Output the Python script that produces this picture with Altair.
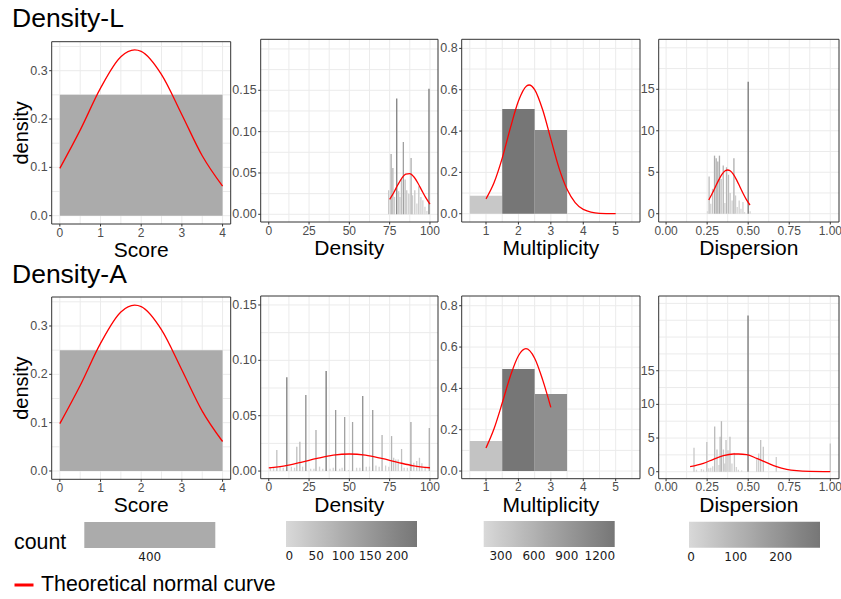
import altair as alt
import pandas as pd

# ---------------- values ----------------
ROW_TITLES = ["Density-L", "Density-A"]
X_TITLES = ["Score", "Density", "Multiplicity", "Dispersion"]
Y_TITLE = "density"
LEGEND_TITLE = "count"
CURVE_LABEL = "Theoretical normal curve"

# Score panels (identical in both rows)
SCORE_BIN_LO = [0.0]
SCORE_BIN_HI = [4.0]
SCORE_DENSITY = [0.25]
SCORE_COUNT = [400]
SCORE_CURVE_X = [0.0, 0.5, 1.0, 1.5, 1.84, 2.0, 2.5, 3.0, 3.5, 4.0]
SCORE_CURVE_Y = [0.098, 0.177, 0.264, 0.329, 0.343, 0.340, 0.292, 0.209, 0.124, 0.061]

# Density, row L
DENS_L_X = [74.4, 75.9, 77.0, 78.0, 79.4, 80.6, 81.4, 82.3, 83.5, 84.6, 85.6,
            86.9, 88.3, 89.2, 90.6, 91.9, 93.1, 94.4, 95.6, 96.9, 98.1, 99.4]
DENS_L_Y = [0.029, 0.073, 0.056, 0.021, 0.140, 0.028, 0.021, 0.042, 0.0875, 0.042, 0.029,
            0.025, 0.068, 0.023, 0.029, 0.013, 0.034, 0.021, 0.017, 0.009, 0.004, 0.152]
DENS_L_CURVE_X = [75, 77.5, 80, 82.5, 85, 87.5, 90, 92.5, 95, 97.5, 100]
DENS_L_CURVE_Y = [0.0180, 0.0261, 0.0354, 0.0436, 0.0486, 0.0493, 0.0454, 0.0379, 0.0287, 0.0198, 0.0124]

# Density, row A
DENS_A_X = [1.0, 3.0, 5.0, 7.0, 9.0, 11.2, 14.0, 16.0, 17.4, 19.3, 21.0, 23.0, 26.0, 28.0,
            29.3, 31.5, 33.5, 35.6, 38.0, 40.0, 41.5, 44.0, 45.5, 47.1, 49.5, 52.0, 54.5,
            56.5, 58.3, 60.5, 62.5, 64.5, 66.5, 68.5, 70.3, 72.5, 74.5, 76.2, 77.5, 78.8,
            80.3, 82.4, 84.0, 86.0, 88.2, 90.0, 91.8, 93.5, 95.0, 97.0, 99.6]
DENS_A_Y = [0.003, 0.003, 0.019, 0.004, 0.003, 0.0847, 0.004, 0.003, 0.022, 0.0265, 0.004,
            0.0687, 0.002, 0.002, 0.037, 0.004, 0.002, 0.0904, 0.002, 0.003, 0.0551, 0.002,
            0.003, 0.0488, 0.001, 0.0443, 0.003, 0.003, 0.0678, 0.004, 0.004, 0.0551, 0.005,
            0.004, 0.0325, 0.005, 0.004, 0.0316, 0.012, 0.0105, 0.0105, 0.0199, 0.003, 0.003,
            0.0443, 0.0075, 0.009, 0.012, 0.007, 0.004, 0.0389]
DENS_A_CURVE_X = [0, 10, 20, 30, 40, 50, 60, 70, 80, 90, 100]
DENS_A_CURVE_Y = [0.0028, 0.0047, 0.0079, 0.0114, 0.0143, 0.0154, 0.0143, 0.0114, 0.0079, 0.0047, 0.0030]

# Multiplicity
MULT_L_CENTER = [1, 2, 3, 4, 5]
MULT_L_DENSITY = [0.087, 0.5065, 0.405, 0.004, 0.003]
MULT_L_COUNT = [237, 1381, 1104, 11, 8]
MULT_L_CURVE_X = [1.0, 1.25, 1.5, 1.75, 2.0, 2.25, 2.33, 2.5, 2.75, 3.0, 3.25, 3.5, 3.75, 4.0, 4.5, 5.0]
MULT_L_CURVE_Y = [0.072, 0.151, 0.269, 0.414, 0.545, 0.618, 0.623, 0.601, 0.502, 0.361, 0.222,
                  0.118, 0.054, 0.021, 0.002, 0.0001]
MULT_A_CENTER = [1, 2, 3]
MULT_A_DENSITY = [0.145, 0.4935, 0.3725]
MULT_A_COUNT = [395, 1346, 1016]
MULT_A_CURVE_X = [1.0, 1.25, 1.5, 1.75, 2.0, 2.23, 2.5, 2.75, 3.0]
MULT_A_CURVE_Y = [0.112, 0.206, 0.329, 0.459, 0.558, 0.592, 0.546, 0.440, 0.308]

# Dispersion, row L
DISP_L_X = [0.252, 0.262, 0.272, 0.283, 0.295, 0.305, 0.315, 0.325, 0.335, 0.348, 0.358, 0.368,
            0.380, 0.390, 0.402, 0.413, 0.423, 0.433, 0.445, 0.456, 0.468, 0.478, 0.500, 0.512]
DISP_L_Y = [0.3, 4.5, 1.2, 3.0, 7.0, 6.7, 6.3, 7.0, 4.2, 5.8, 1.3, 5.6,
            4.7, 2.5, 1.6, 6.7, 2.2, 0.8, 1.6, 0.6, 1.4, 0.2, 15.9, 0.3]
DISP_L_CURVE_X = [0.26, 0.28, 0.30, 0.32, 0.34, 0.36, 0.375, 0.39, 0.41, 0.43, 0.45, 0.47, 0.49, 0.511]
DISP_L_CURVE_Y = [1.66, 2.40, 3.23, 4.05, 4.74, 5.17, 5.27, 5.17, 4.74, 4.05, 3.23, 2.40, 1.66, 1.05]

# Dispersion, row A
DISP_A_X = [0.170, 0.185, 0.215, 0.228, 0.248, 0.260, 0.272, 0.284, 0.296, 0.310, 0.322, 0.329,
            0.337, 0.349, 0.357, 0.365, 0.377, 0.389, 0.401, 0.416, 0.428, 0.440, 0.460, 0.499,
            0.552, 0.564, 0.576, 0.592, 0.671, 1.000]
DISP_A_Y = [3.57, 0.3, 0.4, 0.3, 4.4, 0.5, 0.6, 0.8, 6.7, 3.3, 1.0, 5.2,
            7.5, 3.3, 1.2, 4.7, 3.2, 5.2, 1.2, 2.8, 0.7, 0.3, 0.2, 23.2,
            2.0, 2.7, 4.7, 3.7, 2.2, 4.2]
DISP_A_CURVE_X = [0.146, 0.227, 0.288, 0.349, 0.41, 0.44, 0.49, 0.552, 0.613, 0.673, 0.734, 0.795, 0.876, 1.0]
DISP_A_CURVE_Y = [0.74, 1.24, 1.84, 2.38, 2.63, 2.63, 2.53, 1.98, 1.34, 0.74, 0.35, 0.15, 0.05, 0.02]

# counts per unit of density for the narrow-bin histograms
DENS_COUNT_PER_DENSITY = 2620
DISP_COUNT_PER_DENSITY = 12.4

# axis ticks
SCORE_TICKS_X = [0, 1, 2, 3, 4]
SCORE_TICKS_Y = [0.0, 0.1, 0.2, 0.3]
DENS_TICKS_X = [0, 25, 50, 75, 100]
DENS_TICKS_Y = [0.0, 0.05, 0.10, 0.15]
MULT_TICKS_X = [1, 2, 3, 4, 5]
MULT_TICKS_Y = [0.0, 0.2, 0.4, 0.6, 0.8]
DISP_TICKS_X = [0.0, 0.25, 0.5, 0.75, 1.0]
DISP_TICKS_Y = [0, 5, 10, 15]

# grid lines (major + minor)
SCORE_GRID_X = [0, 0.5, 1, 1.5, 2, 2.5, 3, 3.5, 4]
SCORE_GRID_Y = [0, 0.05, 0.1, 0.15, 0.2, 0.25, 0.3, 0.35]
DENS_GRID_X = [0, 12.5, 25, 37.5, 50, 62.5, 75, 87.5, 100]
DENS_L_GRID_Y = [0, 0.025, 0.05, 0.075, 0.1, 0.125, 0.15, 0.175, 0.2]
DENS_A_GRID_Y = [0, 0.025, 0.05, 0.075, 0.1, 0.125, 0.15]
MULT_GRID_X = [0.5, 1, 1.5, 2, 2.5, 3, 3.5, 4, 4.5, 5, 5.5]
MULT_GRID_Y = [0, 0.1, 0.2, 0.3, 0.4, 0.5, 0.6, 0.7, 0.8]
DISP_GRID_X = [0, 0.125, 0.25, 0.375, 0.5, 0.625, 0.75, 0.875, 1.0]
DISP_L_GRID_Y = [0, 2.5, 5, 7.5, 10, 12.5, 15, 17.5, 20]
DISP_A_GRID_Y = [0, 2.5, 5, 7.5, 10, 12.5, 15, 17.5, 20, 22.5, 25]

# colour legends
LEG_SCORE_VALUES = [400]
LEG_DENS_VALUES = [0, 50, 100, 150, 200]
LEG_MULT_VALUES = [300, 600, 900, 1200]
LEG_DISP_VALUES = [0, 100, 200]
LEG_SCORE_DOMAIN = [399, 401]
LEG_DENS_DOMAIN = [-6, 237]
LEG_MULT_DOMAIN = [143, 1336]
LEG_DISP_DOMAIN = [-4.5, 288]

# ---------------- styling / layout ----------------
W, H = 841, 599
FONT = "Liberation Sans"
LEGEND_FONT = "DejaVu Sans"
GREYS = ["#D9D9D9", "#767676"]
SCORE_GREY = "#ABABAB"
GRID_COLOR = "#EBEBEB"
BORDER_COLOR = "#333333"
TICK_LABEL_COLOR = "#4D4D4D"
CURVE_COLOR = "#FF0000"
THIN_W_DENS = 0.8
THIN_W_DISP = 0.008
TICK_LEN = 2.5
TICK_FONT = 12
TITLE_FONT = 21
X_TITLE_GAP = 33

CURVE_LEGEND = alt.Legend(orient="none", legendX=13, legendY=574, title=None,
                          symbolType="stroke", symbolStrokeWidth=3, symbolSize=361,
                          labelFont=FONT, labelFontSize=21.33, labelColor="black",
                          labelOffset=6, labelLimit=500, padding=0)


def thin_bars(xs, ys, width, per_density):
    df = pd.DataFrame({"c": xs, "density": ys})
    df["x0"] = df["c"] - width / 2
    df["x1"] = df["c"] + width / 2
    df["count"] = df["density"] * per_density
    return df


def bin_bars(lo, hi, dens, counts):
    return pd.DataFrame({"x0": lo, "x1": hi, "density": dens, "count": counts})


def curve_df(xs, ys):
    return pd.DataFrame({"cx": xs, "cy": ys})


def qdatum_x(v, xs):
    return alt.XDatum(v, type="quantitative", scale=xs, axis=None)


def qdatum_y(v, ys):
    return alt.YDatum(v, type="quantitative", scale=ys, axis=None)


def panel(L, bars, curve, color_scale, color_legend):
    xs = alt.Scale(domain=L["xdom"], range=L["xpx"], nice=False, zero=False)
    ys = alt.Scale(domain=L["ydom"], range=L["ypx"], nice=False, zero=False)
    x_lo, x_hi = L["xdom"]
    y_lo, y_hi = L["ydom"]

    vgrid = alt.Chart(pd.DataFrame({"v": L["vgrid"]})).mark_rule(
        color=GRID_COLOR, strokeWidth=1).encode(
        x=alt.X("v:Q", scale=xs, axis=None), y=qdatum_y(y_lo, ys), y2=alt.Y2Datum(y_hi))
    hgrid = alt.Chart(pd.DataFrame({"h": L["hgrid"]})).mark_rule(
        color=GRID_COLOR, strokeWidth=1).encode(
        y=alt.Y("h:Q", scale=ys, axis=None), x=qdatum_x(x_lo, xs), x2=alt.X2Datum(x_hi))
    rect = alt.Chart(bars).mark_rect().encode(
        x=alt.X("x0:Q", scale=xs, axis=None), x2="x1:Q",
        y=alt.Y("density:Q", scale=ys, axis=None), y2=alt.Y2Datum(0),
        color=alt.Color("count:Q", scale=color_scale, legend=color_legend))
    line = alt.Chart(curve).transform_calculate(series=f"'{CURVE_LABEL}'").mark_line(
        strokeWidth=1.3, interpolate="monotone").encode(
        x=alt.X("cx:Q", scale=xs, axis=None), y=alt.Y("cy:Q", scale=ys, axis=None),
        stroke=alt.Stroke("series:N", scale=alt.Scale(domain=[CURVE_LABEL], range=[CURVE_COLOR]),
                          legend=CURVE_LEGEND))
    frame = alt.Chart(pd.DataFrame({"k": [0]})).mark_rect(
        fillOpacity=0, stroke=BORDER_COLOR, strokeWidth=1).encode(
        x=qdatum_x(x_lo, xs), x2=alt.X2Datum(x_hi), y=qdatum_y(y_lo, ys), y2=alt.Y2Datum(y_hi))

    # x axis (ticks, labels, title)
    xt = pd.DataFrame({"v": L["xticks"], "lab": [format(v, L["xfmt"]) for v in L["xticks"]]})
    xtick = alt.Chart(xt).mark_rule(color=BORDER_COLOR, strokeWidth=1, y2Offset=TICK_LEN).encode(
        x=alt.X("v:Q", scale=xs, axis=None), y=qdatum_y(y_lo, ys), y2=alt.Y2Datum(y_lo))
    xlab = alt.Chart(xt).mark_text(baseline="top", align="center", dy=TICK_LEN + 1,
                                   font=FONT, fontSize=TICK_FONT, color=TICK_LABEL_COLOR).encode(
        x=alt.X("v:Q", scale=xs, axis=None), y=qdatum_y(y_lo, ys), text="lab:N")
    xtitle = alt.Chart(pd.DataFrame({"t": [L["xtitle"]]})).mark_text(
        baseline="alphabetic", align="center", dy=X_TITLE_GAP, font=FONT, fontSize=TITLE_FONT,
        color="black").encode(
        x=qdatum_x((x_lo + x_hi) / 2, xs), y=qdatum_y(y_lo, ys), text="t:N")
    # y axis (ticks, labels)
    yt = pd.DataFrame({"v": L["yticks"], "lab": [format(v, L["yfmt"]) for v in L["yticks"]]})
    ytick = alt.Chart(yt).mark_rule(color=BORDER_COLOR, strokeWidth=1, x2Offset=-TICK_LEN).encode(
        y=alt.Y("v:Q", scale=ys, axis=None), x=qdatum_x(x_lo, xs), x2=alt.X2Datum(x_lo))
    ylab = alt.Chart(yt).mark_text(baseline="middle", align="right", dx=-(TICK_LEN + 1.5),
                                   font=FONT, fontSize=TICK_FONT + 0.5, color=TICK_LABEL_COLOR).encode(
        y=alt.Y("v:Q", scale=ys, axis=None), x=qdatum_x(x_lo, xs), text="lab:N")
    layers = [vgrid, hgrid, rect, line, frame, xtick, xlab, xtitle, ytick, ylab]
    if L.get("ytitle"):
        ytitle = alt.Chart(pd.DataFrame({"t": [L["ytitle"]]})).mark_text(
            baseline="alphabetic", align="center", angle=270, font=FONT, fontSize=20,
            color="black").encode(
            x=alt.value(27.5), y=qdatum_y((y_lo + y_hi) / 2, ys), text="t:N")
        layers.append(ytitle)
    return alt.layer(*layers)


def grad_legend(values, lx, ly):
    return alt.Legend(orient="none", legendX=lx, legendY=ly, direction="horizontal", title=None,
                      gradientLength=131, gradientThickness=26, gradientStrokeWidth=0,
                      values=values, format="d", labelFont=LEGEND_FONT, labelFontSize=12,
                      labelColor="#1A1A1A", labelOverlap=False, labelOffset=4, padding=0)


# pixel frames of the eight panels
COLS = [[51.7, 230.7], [260.7, 438.0], [461.7, 640.0], [658.7, 839.0]]
ROW_L = {"p1": [224.0, 41.7], "other": [222.0, 39.3]}
ROW_A = {"p1": [479.3, 297.0], "other": [478.7, 296.0]}

panels = []
for r, (rowpx, suffix) in enumerate([(ROW_L, "L"), (ROW_A, "A")]):
    legend_row = (r == 1)
    # Score
    L = dict(xpx=COLS[0], ypx=rowpx["p1"], xdom=[-0.2, 4.2], ydom=[-0.0172, 0.36],
             vgrid=SCORE_GRID_X, hgrid=SCORE_GRID_Y, xticks=SCORE_TICKS_X, xfmt="d",
             yticks=SCORE_TICKS_Y, yfmt=".1f", xtitle=X_TITLES[0], ytitle=Y_TITLE)
    panels.append(panel(L, bin_bars(SCORE_BIN_LO, SCORE_BIN_HI, SCORE_DENSITY, SCORE_COUNT),
                        curve_df(SCORE_CURVE_X, SCORE_CURVE_Y),
                        alt.Scale(domain=LEG_SCORE_DOMAIN, range=[SCORE_GREY, SCORE_GREY]),
                        grad_legend(LEG_SCORE_VALUES, 84.3, 522) if legend_row else None))
    # Density
    L = dict(xpx=COLS[1], ypx=rowpx["other"], xdom=[-5, 105],
             ydom=[-0.0093, 0.2117] if suffix == "L" else [-0.0069, 0.1581],
             vgrid=DENS_GRID_X, hgrid=DENS_L_GRID_Y if suffix == "L" else DENS_A_GRID_Y,
             xticks=DENS_TICKS_X, xfmt="d", yticks=DENS_TICKS_Y, yfmt=".2f", xtitle=X_TITLES[1])
    if suffix == "L":
        b = thin_bars(DENS_L_X, DENS_L_Y, THIN_W_DENS, DENS_COUNT_PER_DENSITY)
        c = curve_df(DENS_L_CURVE_X, DENS_L_CURVE_Y)
        cs = alt.Scale(range=GREYS, clamp=True)
    else:
        b = thin_bars(DENS_A_X, DENS_A_Y, THIN_W_DENS, DENS_COUNT_PER_DENSITY)
        c = curve_df(DENS_A_CURVE_X, DENS_A_CURVE_Y)
        cs = alt.Scale(domain=LEG_DENS_DOMAIN, range=GREYS, clamp=True)
    panels.append(panel(L, b, c, cs, grad_legend(LEG_DENS_VALUES, 286, 521) if legend_row else None))
    # Multiplicity
    L = dict(xpx=COLS[2], ypx=rowpx["other"], xdom=[0.25, 5.75],
             ydom=[-0.04, 0.844] if suffix == "L" else [-0.037, 0.847],
             vgrid=MULT_GRID_X, hgrid=MULT_GRID_Y,
             xticks=MULT_TICKS_X, xfmt="d", yticks=MULT_TICKS_Y, yfmt=".1f", xtitle=X_TITLES[2])
    if suffix == "L":
        lo = [m - 0.5 for m in MULT_L_CENTER]
        hi = [m + 0.5 for m in MULT_L_CENTER]
        b = bin_bars(lo, hi, MULT_L_DENSITY, MULT_L_COUNT)
        c = curve_df(MULT_L_CURVE_X, MULT_L_CURVE_Y)
        cs = alt.Scale(range=GREYS, clamp=True)
    else:
        lo = [m - 0.5 for m in MULT_A_CENTER]
        hi = [m + 0.5 for m in MULT_A_CENTER]
        b = bin_bars(lo, hi, MULT_A_DENSITY, MULT_A_COUNT)
        c = curve_df(MULT_A_CURVE_X, MULT_A_CURVE_Y)
        cs = alt.Scale(domain=LEG_MULT_DOMAIN, range=GREYS, clamp=True)
    panels.append(panel(L, b, c, cs, grad_legend(LEG_MULT_VALUES, 483.7, 521) if legend_row else None))
    # Dispersion
    L = dict(xpx=COLS[3], ypx=rowpx["other"], xdom=[-0.045, 1.053],
             ydom=[-1.0, 21.03] if suffix == "L" else [-1.04, 26.1],
             vgrid=DISP_GRID_X, hgrid=DISP_L_GRID_Y if suffix == "L" else DISP_A_GRID_Y,
             xticks=DISP_TICKS_X, xfmt=".2f", yticks=DISP_TICKS_Y, yfmt="d", xtitle=X_TITLES[3])
    if suffix == "L":
        b = thin_bars(DISP_L_X, DISP_L_Y, THIN_W_DISP, DISP_COUNT_PER_DENSITY)
        c = curve_df(DISP_L_CURVE_X, DISP_L_CURVE_Y)
        cs = alt.Scale(range=GREYS, clamp=True)
    else:
        b = thin_bars(DISP_A_X, DISP_A_Y, THIN_W_DISP, DISP_COUNT_PER_DENSITY)
        c = curve_df(DISP_A_CURVE_X, DISP_A_CURVE_Y)
        cs = alt.Scale(domain=LEG_DISP_DOMAIN, range=GREYS, clamp=True)
    panels.append(panel(L, b, c, cs, grad_legend(LEG_DISP_VALUES, 689, 521.7) if legend_row else None))


def text_layer(text, x, y, size):
    return alt.Chart(pd.DataFrame({"t": [text]})).mark_text(
        align="left", baseline="alphabetic", font=FONT, fontSize=size, color="black").encode(
        x=alt.value(x), y=alt.value(y), text="t:N")


texts = [
    text_layer(ROW_TITLES[0], 12, 27, 26.5),
    text_layer(ROW_TITLES[1], 12, 283, 26.5),
    text_layer(LEGEND_TITLE, 14, 549.3, 21.33),
]

chart = alt.layer(*panels, *texts).resolve_scale(
    x="independent", y="independent", color="independent"
).properties(
    width=W, height=H, padding=0, autosize=alt.AutoSizeParams(type="none")
).configure_view(stroke=None)

chart.save("out.html", embed_options={"renderer": "svg", "actions": False})
